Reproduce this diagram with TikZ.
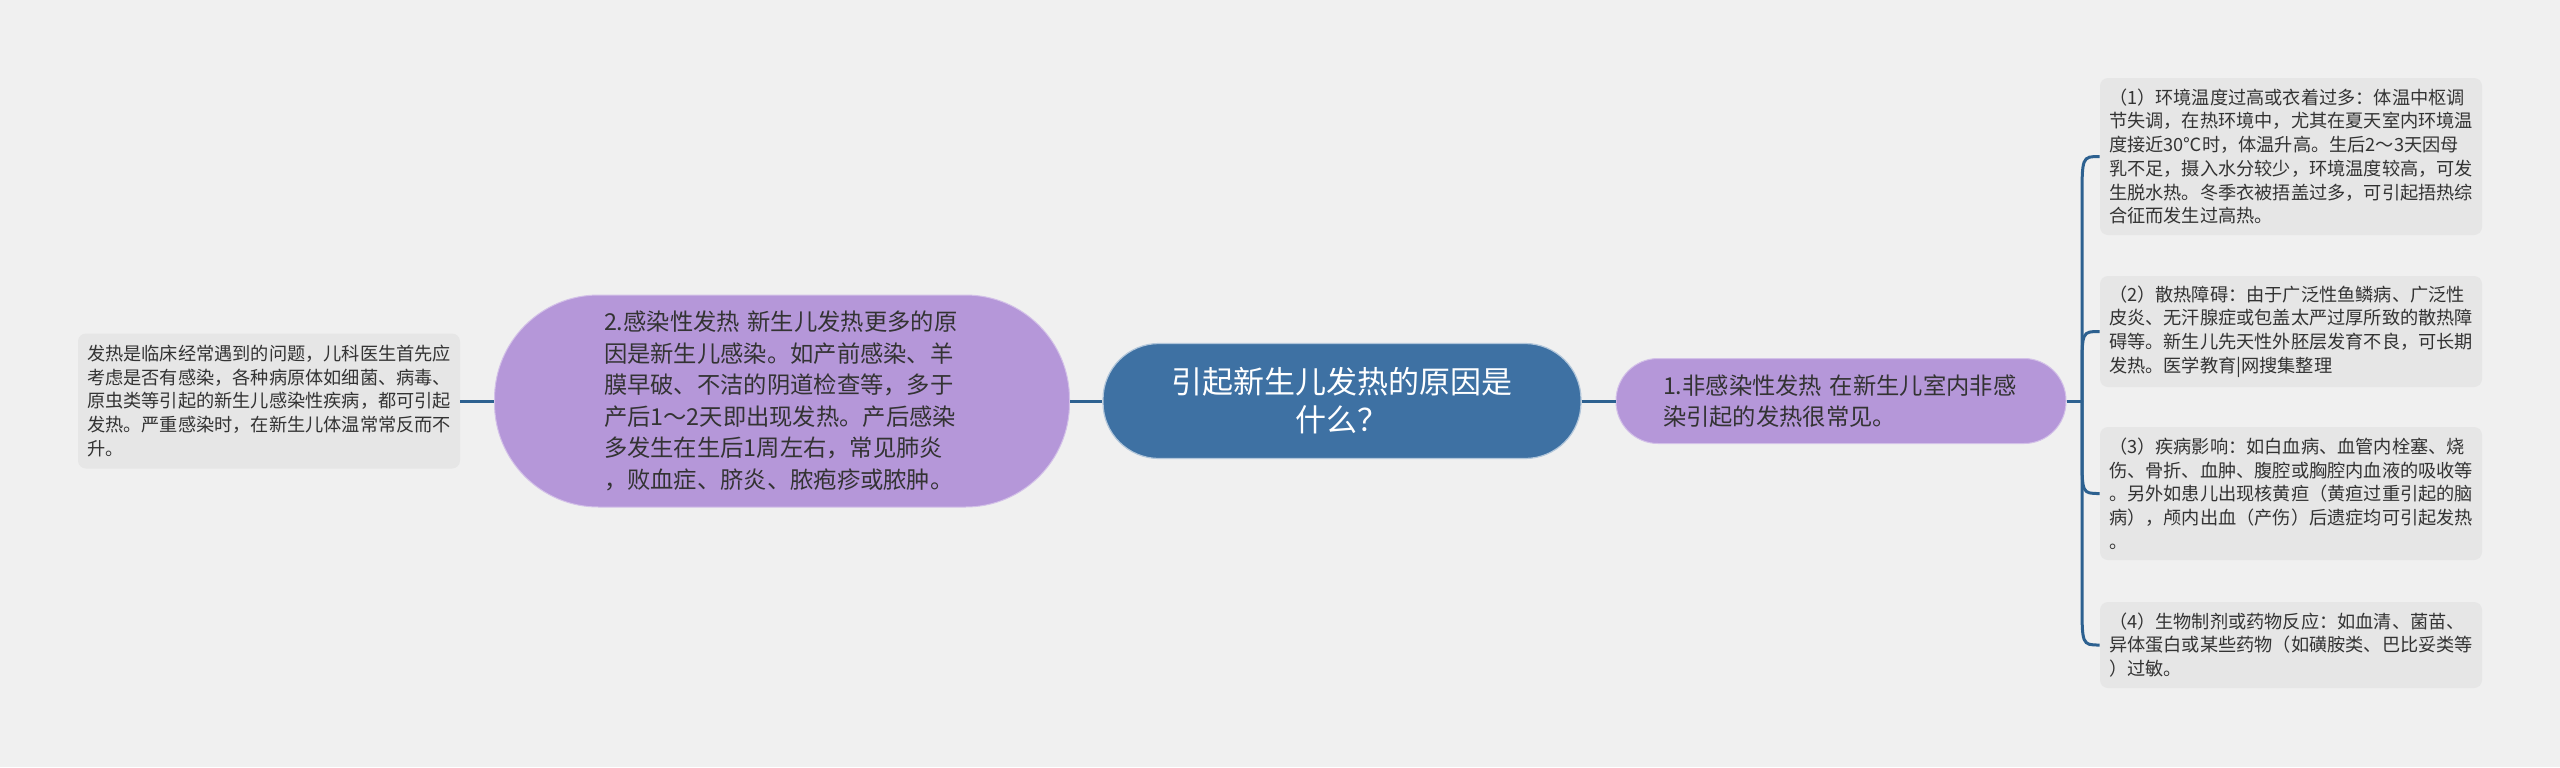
\documentclass[tikz,border=0pt]{standalone}
\usepackage{fontspec}
\setmainfont{Noto Sans CJK SC}
\usepackage{tikz}
\usetikzlibrary{positioning}
\usepackage{xcolor}

\definecolor{bgcol}{HTML}{F0F0F0}
\definecolor{boxcol}{HTML}{E6E6E6}
\definecolor{purplecol}{HTML}{B597D9}
\definecolor{rootcol}{HTML}{3E71A3}
\definecolor{linecol}{HTML}{2D6190}
\definecolor{textcol}{HTML}{333333}

\begin{document}
\begin{tikzpicture}[x=0.5pt, y=-0.5pt,
    link/.style={draw=linecol, line width=1.5pt},
    rootnode/.style={fill=rootcol, draw=white!60!rootcol, line width=0.6pt, text=white,
        align=center, minimum width=239pt, minimum height=57.5pt, rounded corners=28pt,
        font={\fontsize{15.5pt}{19pt}\selectfont}},
    reasonnode/.style={fill=purplecol, draw=white!40!purplecol, line width=0.5pt, text=textcol,
        align=left, text width=178pt,
        font={\fontsize{11.65pt}{15.8pt}\selectfont}},
    notebox/.style={fill=boxcol, rounded corners=4pt, text=textcol, align=left,
        text width=182pt, inner xsep=4.5pt, inner ysep=4pt,
        font={\fontsize{9.1pt}{11.85pt}\selectfont}}]

    % Background
    \fill[bgcol] (0,0) rectangle (2560,767);
    \useasboundingbox (0,0) rectangle (2560,767);

    % Central topic
    \node[rootnode] (root) at (1342,401) {引起新生儿发热的原因是\\什么？};

    % Main branches
    \node[reasonnode, minimum width=287.5pt, minimum height=106pt, rounded corners=52pt]
        (infect) at (782,401)
        {2.感染性发热 新生儿发热更多的原\\
         因是新生儿感染。如产前感染、羊\\
         膜早破、不洁的阴道检查等，多于\\
         产后1～2天即出现发热。产后感染\\
         多发生在生后1周左右，常见肺炎\\
         ，败血症、脐炎、脓疱疹或脓肿。};
    \node[reasonnode, minimum width=225pt, minimum height=42.5pt, rounded corners=21pt]
        (noninfect) at (1841,401)
        {1.非感染性发热 在新生儿室内非感\\
         染引起的发热很常见。};

    % Detail notes
    \node[notebox, minimum height=67.5pt] (infectnote) at (269,401)
        {发热是临床经常遇到的问题，儿科医生首先应\\
         考虑是否有感染，各种病原体如细菌、病毒、\\
         原虫类等引起的新生儿感染性疾病，都可引起\\
         发热。严重感染时，在新生儿体温常常反而不\\
         升。};
    \node[notebox, minimum height=78.5pt] (note1) at (2291,156.5)
        {（1）环境温度过高或衣着过多：体温中枢调\\
         节失调，在热环境中，尤其在夏天室内环境温\\
         度接近30℃时，体温升高。生后2～3天因母\\
         乳不足，摄入水分较少，环境温度较高，可发\\
         生脱水热。冬季衣被捂盖过多，可引起捂热综\\
         合征而发生过高热。};
    \node[notebox, minimum height=55.5pt] (note2) at (2291,331.5)
        {（2）散热障碍：由于广泛性鱼鳞病、广泛性\\
         皮炎、无汗腺症或包盖太严过厚所致的散热障\\
         碍等。新生儿先天性外胚层发育不良，可长期\\
         发热。医学教育|网搜集整理};
    \node[notebox, minimum height=66.5pt] (note3) at (2291,493.5)
        {（3）疾病影响：如白血病、血管内栓塞、烧\\
         伤、骨折、血肿、腹腔或胸腔内血液的吸收等\\
         。另外如患儿出现核黄疸（黄疸过重引起的脑\\
         病），颅内出血（产伤）后遗症均可引起发热\\
         。};
    \node[notebox, minimum height=43pt] (note4) at (2291,645)
        {（4）生物制剂或药物反应：如血清、菌苗、\\
         异体蛋白或某些药物（如磺胺类、巴比妥类等\\
         ）过敏。};

    % Connectors
    \draw[link] (infectnote.east) -- (infect.west);
    \draw[link] (infect.east) -- (root.west);
    \draw[link] (root.east) -- (noninfect.west);
    \coordinate (hub) at (2082,401);
    \draw[link] (noninfect.east) -- (hub);
    \foreach \n/\s in {note1/-22pt, note2/-20pt, note3/20pt, note4/22pt} {
        \draw[link] (hub) -- ([yshift=\s]hub |- \n.west)
            .. controls (hub |- \n.west) .. (\n.west);
    }
\end{tikzpicture}
\end{document}
